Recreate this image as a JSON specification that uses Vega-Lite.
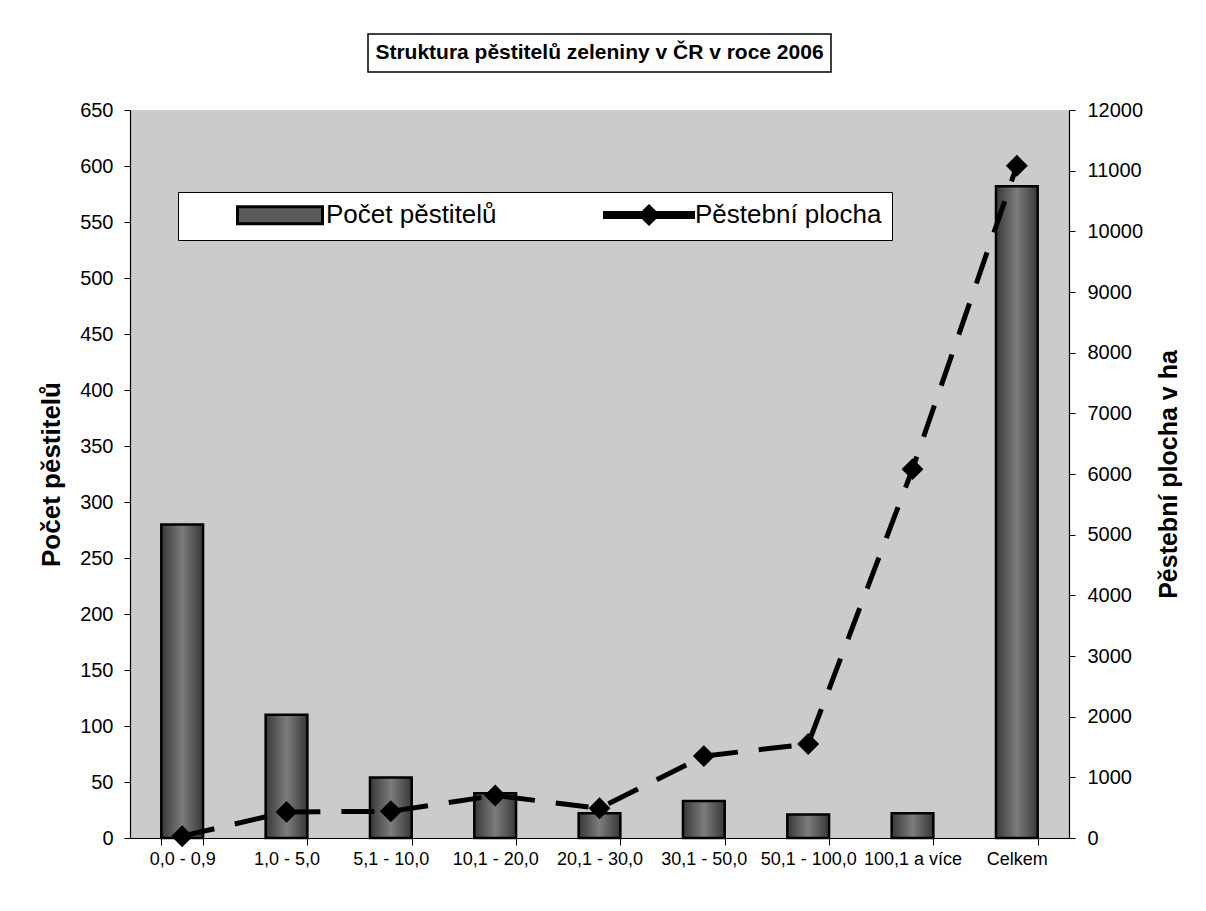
{
  "$schema": "https://vega.github.io/schema/vega-lite/v6.json",
  "background": "white",
  "padding": {"left": 38, "top": 33, "right": 10, "bottom": 10},
  "config": {
    "font": "Liberation Sans",
    "view": {"stroke": null},
    "axis": {"labelFont": "Liberation Sans", "titleFont": "Liberation Sans", "labelColor": "black", "titleColor": "black", "domainColor": "black", "tickColor": "black", "grid": false}
  },
  "center": true,
  "bounds": "flush",
  "spacing": 38,
  "vconcat": [
    {
      "width": 463,
      "height": 38,
      "view": {"fill": "white", "stroke": "black", "strokeWidth": 1.5},
      "data": {"values": [{"nadpis": "Struktura pěstitelů zeleniny v ČR v roce 2006"}]},
      "mark": {"type": "text", "font": "Liberation Sans", "fontWeight": "bold", "fontSize": 21, "color": "black"},
      "encoding": {"text": {"field": "nadpis", "type": "nominal"}}
    },
    {
      "width": 939,
      "height": 728,
      "view": {"fill": "#cbcbcb", "stroke": null},
      "data": {"values": [
        {"kategorie": "0,0 - 0,9", "pocet": 280, "plocha": 30},
        {"kategorie": "1,0 - 5,0", "pocet": 110, "plocha": 430},
        {"kategorie": "5,1 - 10,0", "pocet": 54, "plocha": 440},
        {"kategorie": "10,1 - 20,0", "pocet": 40, "plocha": 700},
        {"kategorie": "20,1 - 30,0", "pocet": 22, "plocha": 490},
        {"kategorie": "30,1 - 50,0", "pocet": 33, "plocha": 1350},
        {"kategorie": "50,1 - 100,0", "pocet": 21, "plocha": 1550},
        {"kategorie": "100,1 a více", "pocet": 22, "plocha": 6080},
        {"kategorie": "Celkem", "pocet": 582, "plocha": 11080}
      ]},
      "encoding": {
        "x": {
          "field": "kategorie", "type": "nominal", "sort": null,
          "scale": {"paddingInner": 0.6, "paddingOuter": 0.3},
          "axis": {"title": null, "labelAngle": 0, "labelFontSize": 18, "tickBand": "extent", "tickSize": 7, "labelPadding": 5, "domainWidth": 1.2}
        }
      },
      "layer": [
        {
          "mark": {
            "type": "bar",
            "fill": {"gradient": "linear", "x1": 0, "x2": 1, "y1": 0, "y2": 0,
              "stops": [{"offset": 0, "color": "#383838"}, {"offset": 0.5, "color": "#7c7c7c"}, {"offset": 1, "color": "#383838"}]},
            "stroke": "black",
            "strokeWidth": 2.5
          },
          "encoding": {
            "y": {
              "field": "pocet", "type": "quantitative",
              "scale": {"domain": [0, 650], "nice": false},
              "axis": {"title": "Počet pěstitelů", "titleFontSize": 26, "titleFontWeight": "bold", "titlePadding": 15,
                "values": [0, 50, 100, 150, 200, 250, 300, 350, 400, 450, 500, 550, 600, 650],
                "labelFontSize": 20, "tickSize": 6, "labelPadding": 11, "domainWidth": 1.2}
            }
          }
        },
        {
          "layer": [
            {
              "mark": {"type": "line", "color": "black", "strokeWidth": 5, "strokeDash": [33, 21]},
              "encoding": {
                "y": {
                  "field": "plocha", "type": "quantitative",
                  "scale": {"domain": [0, 12000], "nice": false},
                  "axis": {"orient": "right", "title": "Pěstební plocha v ha", "titleFontSize": 25, "titleFontWeight": "bold",
                    "titleAngle": 270, "titleBaseline": "top", "titlePadding": 14,
                    "values": [0, 1000, 2000, 3000, 4000, 5000, 6000, 7000, 8000, 9000, 10000, 11000, 12000],
                    "format": "d", "labelFontSize": 20, "tickSize": 6, "labelPadding": 12, "domainWidth": 1.2}
                }
              }
            },
            {
              "mark": {"type": "point", "shape": "diamond", "filled": true, "color": "black", "size": 480, "opacity": 1},
              "encoding": {"y": {"field": "plocha", "type": "quantitative"}}
            },
            {
              "mark": {"type": "point", "opacity": 0, "strokeWidth": 3},
              "encoding": {
                "y": {"field": "plocha", "type": "quantitative"},
                "shape": {
                  "datum": "Pěstební plocha", "type": "nominal",
                  "scale": {"domain": ["Počet pěstitelů", "Pěstební plocha"],
                    "range": ["M-4.25,-0.85H4.25V0.85H-4.25Z", "M-4.45,-0.25H4.45V0.25H-4.45Z M0,-0.9L0.9,0L0,0.9L-0.9,0Z"]},
                  "legend": {"orient": "none", "legendX": 48, "legendY": 158, "direction": "horizontal", "title": null,
                    "fillColor": "white", "strokeColor": "black", "padding": 10,
                    "labelFont": "Liberation Sans", "labelFontSize": 26, "labelColor": "black", "labelLimit": 600,
                    "symbolSize": 400, "symbolStrokeColor": "black", "symbolStrokeWidth": 3, "symbolOpacity": 1,
                    "symbolOffset": 79, "labelOffset": 33, "columnPadding": 60}
                },
                "fill": {
                  "datum": "Pěstební plocha", "type": "nominal",
                  "scale": {"domain": ["Počet pěstitelů", "Pěstební plocha"], "range": ["#5a5a5a", "black"]},
                  "legend": {"orient": "none", "legendX": 48, "legendY": 158, "direction": "horizontal", "title": null,
                    "fillColor": "white", "strokeColor": "black", "padding": 10,
                    "labelFont": "Liberation Sans", "labelFontSize": 26, "labelColor": "black", "labelLimit": 600,
                    "symbolSize": 400, "symbolStrokeColor": "black", "symbolStrokeWidth": 3, "symbolOpacity": 1,
                    "symbolOffset": 79, "labelOffset": 33, "columnPadding": 60}
                },
                "stroke": {
                  "datum": "Pěstební plocha", "type": "nominal",
                  "scale": {"domain": ["Počet pěstitelů", "Pěstební plocha"], "range": ["black", "black"]},
                  "legend": {"orient": "none", "legendX": 48, "legendY": 158, "direction": "horizontal", "title": null,
                    "fillColor": "white", "strokeColor": "black", "padding": 10,
                    "labelFont": "Liberation Sans", "labelFontSize": 26, "labelColor": "black", "labelLimit": 600,
                    "symbolSize": 400, "symbolStrokeColor": "black", "symbolStrokeWidth": 3, "symbolOpacity": 1,
                    "symbolOffset": 79, "labelOffset": 33, "columnPadding": 60}
                }
              }
            }
          ]
        }
      ],
      "resolve": {"scale": {"y": "independent"}}
    }
  ]
}
